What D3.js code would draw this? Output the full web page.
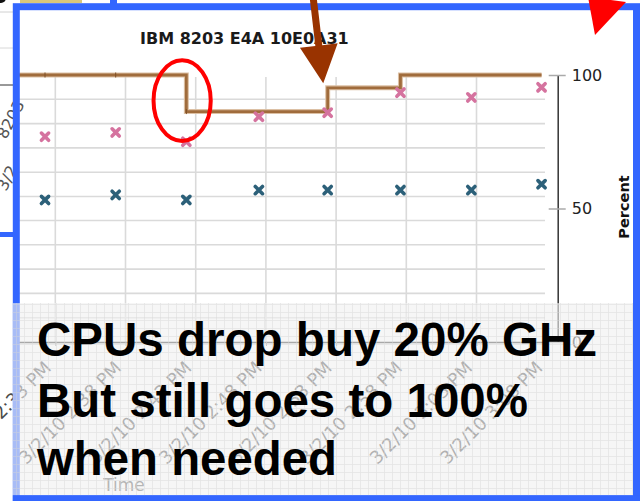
<!DOCTYPE html>
<html>
<head>
<meta charset="utf-8">
<script src="https://cdn.jsdelivr.net/npm/d3@7"></script>
<style>
  html, body { margin: 0; padding: 0; background: #fff; }
  svg { display: block; }
</style>
</head>
<body>
<script>
'use strict';

const W = 642, H = 501;

// samples taken on 3/2/10, roughly every 5 minutes
const sampleTimes = ['14:32:16', '14:37:18', '14:42:20', '14:47:30', '14:52:24', '14:57:35', '15:02:38', '15:07:38'];
const cpuFreq  = [100, 100, 86.3, 86.3, 95.2, 100, 100, 100];      // brown step line
const peakUtil = [76.9, 78.5, 75.0, 84.4, 85.9, 93.4, 91.6, 95.4]; // pink crosses
const avgUtil  = [53.2, 55.1, 53.2, 56.9, 56.9, 56.9, 56.9, 59.1]; // teal crosses

const timeDomain = ['14:30:12', '15:08:00'];
const tickTimes  = ['14:33', '14:38', '14:43', '14:48', '14:53', '14:58', '15:03', '15:08'];
const tickLabels = ['3/2/10 2:33 PM', '3/2/10 2:38 PM', '3/2/10 2:43 PM', '3/2/10 2:48 PM',
                    '3/2/10 2:53 PM', '3/2/10 2:58 PM', '3/2/10 3:03 PM', '3/2/10 3:08 PM'];
const yTicks = [0, 50, 100];
const yGrid  = [9.1, 18.2, 27.3, 36.4, 45.5, 54.5, 63.6, 72.7, 81.8, 90.9];

const title = 'IBM 8203 E4A 10E0A31';
const message = ['CPUs drop buy 20% GHz', 'But still goes to 100%', 'when needed'];

const parseS = d3.timeParse('%H:%M:%S');
const parseM = d3.timeParse('%H:%M');

const svg = d3.select('body').append('svg')
  .attr('width', W)
  .attr('height', H);

const defs = svg.append('defs');
const pat = defs.append('pattern')
  .attr('id', 'paper')
  .attr('width', 8).attr('height', 8)
  .attr('patternUnits', 'userSpaceOnUse');
pat.append('path')
  .attr('d', 'M0,0.5H8M0.5,0V8')
  .attr('stroke', '#d6d6d6')
  .attr('stroke-width', 0.8)
  .attr('fill', 'none');

// bits of the slide behind, left and top of the frame
const bg = svg.append('g');
bg.append('line').attr('x1', 0).attr('x2', 13).attr('y1', 12).attr('y2', 12).attr('stroke', '#d0d0d0');
bg.append('line').attr('x1', 0).attr('x2', 13).attr('y1', 48).attr('y2', 48).attr('stroke', '#d8d8d8');
bg.append('line').attr('x1', 0).attr('x2', 13).attr('y1', 85).attr('y2', 85).attr('stroke', '#333');
bg.append('rect').attr('x', 0).attr('y', 232).attr('width', 14).attr('height', 5).attr('fill', '#3366ff');
bg.append('rect').attr('x', 110).attr('y', 0).attr('width', 7).attr('height', 5).attr('fill', '#3366ff');
bg.append('rect').attr('x', 20).attr('y', 0).attr('width', 62).attr('height', 3).attr('fill', '#d8c77a');
bg.append('circle').attr('cx', 1).attr('cy', -2).attr('r', 5).attr('fill', '#111');
bg.append('text').attr('transform', 'translate(6,140) rotate(-62)')
  .attr('font-family', 'DejaVu Sans').attr('font-size', 16).attr('fill', '#555').text('8203');
bg.append('text').attr('transform', 'translate(6,192) rotate(-62)')
  .attr('font-family', 'DejaVu Sans').attr('font-size', 16).attr('fill', '#555').text('3/2');

// scales
const x = d3.scaleTime()
  .domain(timeDomain.map(parseS))
  .range([16, 546.7]);
const y = d3.scaleLinear()
  .domain([0, 100])
  .range([342, 75]);

const chart = svg.append('g');

// grid
chart.append('g').selectAll('line')
  .data(yGrid)
  .join('line')
  .attr('x1', 16).attr('x2', 545)
  .attr('y1', d => y(d)).attr('y2', d => y(d))
  .attr('stroke', '#dadada').attr('stroke-width', 1.6);

chart.append('g').selectAll('line')
  .data(tickTimes.map(parseM).filter(t => x(t) < 540))
  .join('line')
  .attr('x1', d => x(d)).attr('x2', d => x(d))
  .attr('y1', y(100) + 2).attr('y2', y(0))
  .attr('stroke', '#dadada').attr('stroke-width', 1.6);

// x axis
const xAxis = chart.append('g')
  .attr('transform', `translate(0,${y(0)})`)
  .call(d3.axisBottom(x)
    .tickValues(tickTimes.map(parseM))
    .tickFormat((d, i) => tickLabels[i])
    .tickSize(4)
    .tickSizeOuter(0));
xAxis.select('.domain').attr('stroke', '#333').attr('stroke-width', 1.5);
xAxis.selectAll('.tick line').attr('stroke', '#888');
xAxis.selectAll('.tick text')
  .attr('font-family', 'DejaVu Sans')
  .attr('font-size', 18)
  .attr('fill', '#4a4a4a')
  .attr('text-anchor', 'end')
  .attr('x', 0).attr('y', 0).attr('dy', 0)
  .attr('transform', 'translate(-3.5,27) rotate(-45)');

chart.append('text')
  .attr('x', 124).attr('y', 491)
  .attr('text-anchor', 'middle')
  .attr('font-family', 'DejaVu Sans')
  .attr('font-size', 17)
  .attr('fill', '#555')
  .text('Time');

// y axis on the right
const yAxis = chart.append('g')
  .attr('transform', 'translate(557.7,0)')
  .call(d3.axisRight(y)
    .tickValues(yTicks)
    .tickSize(8)
    .tickSizeOuter(0)
    .tickPadding(6));
yAxis.select('.domain').attr('stroke', '#333').attr('stroke-width', 1.5);
yAxis.selectAll('.tick line').attr('x1', -9).attr('stroke', '#aaa').attr('stroke-width', 1.5);
yAxis.selectAll('.tick text')
  .attr('font-family', 'DejaVu Sans')
  .attr('font-size', 16)
  .attr('fill', '#222');

chart.append('text')
  .attr('transform', 'translate(629,207) rotate(-90)')
  .attr('text-anchor', 'middle')
  .attr('font-family', 'DejaVu Sans')
  .attr('font-weight', 'bold')
  .attr('font-size', 14.5)
  .attr('fill', '#111')
  .text('Percent');

chart.append('text')
  .attr('x', 140).attr('y', 44)
  .attr('font-family', 'DejaVu Sans')
  .attr('font-weight', 'bold')
  .attr('font-size', 16)
  .attr('fill', '#1a1a1a')
  .text(title);

// step line (GHz as percent of nominal)
const samples = sampleTimes.map(parseS);
const stepData = [{t: x.domain()[0], v: cpuFreq[0]}]
  .concat(samples.map((t, i) => ({t: t, v: cpuFreq[i]})));
const step = d3.line()
  .x(d => x(d.t))
  .y(d => y(d.v))
  .curve(d3.curveStepAfter);

chart.append('path')
  .attr('d', step(stepData))
  .attr('fill', 'none')
  .attr('stroke', '#dcc0a4')
  .attr('stroke-width', 5);
chart.append('path')
  .attr('d', step(stepData))
  .attr('fill', 'none')
  .attr('stroke', '#a06c3c')
  .attr('stroke-width', 2.8);
chart.append('g').selectAll('line')
  .data(samples.slice(0, 3))
  .join('line')
  .attr('x1', d => x(d)).attr('x2', d => x(d))
  .attr('y1', (d, i) => y(cpuFreq[i]) - 2.5)
  .attr('y2', (d, i) => y(cpuFreq[i]) + 2.5)
  .attr('stroke', '#7d4f26').attr('stroke-width', 1);

// crosses
const cross = 'M-3.6,-3.6L3.6,3.6M-3.6,3.6L3.6,-3.6';
function drawCrosses(values, color) {
  chart.append('g').selectAll('path')
    .data(values)
    .join('path')
    .attr('transform', (d, i) => `translate(${x(samples[i])},${y(d)})`)
    .attr('d', cross)
    .attr('stroke', color)
    .attr('stroke-width', 3.6)
    .attr('stroke-linecap', 'round')
    .attr('fill', 'none');
}
drawCrosses(peakUtil, '#d5739f');
drawCrosses(avgUtil, '#2c6079');

// blue frame
svg.append('rect')
  .attr('x', 16.3).attr('y', 6.7)
  .attr('width', 620.2).attr('height', 492)
  .attr('fill', 'none')
  .attr('stroke', '#3366ff')
  .attr('stroke-width', 7);

// annotations
svg.append('ellipse')
  .attr('cx', x(parseS('14:42:02'))).attr('cy', y(90.4))
  .attr('rx', 28.6).attr('ry', 40.3)
  .attr('fill', 'none')
  .attr('stroke', '#ff0000')
  .attr('stroke-width', 4);

const arrowPts = [[-3.5, -95], [3.5, -95], [3.5, -38], [19, -38], [0, 0], [-19, -38], [-3.5, -38]];
svg.append('polygon')
  .attr('transform', `translate(${x(parseS('14:52:05'))},${y(96.9)}) rotate(-6.7)`)
  .attr('points', arrowPts.map(p => p.join(',')).join(' '))
  .attr('fill', '#993300');

// translucent note panel
const panel = svg.append('g');
panel.append('rect')
  .attr('x', 12.7).attr('y', 303)
  .attr('width', 621.3).attr('height', 192.5)
  .attr('fill', '#f0f0f0')
  .attr('opacity', 0.62);
panel.append('rect')
  .attr('x', 12.7).attr('y', 303)
  .attr('width', 621.3).attr('height', 192.5)
  .attr('fill', 'url(#paper)')
  .attr('opacity', 0.55);

const msgY = [356, 417, 475];
const msgLen = [560, 491, 300];
panel.selectAll('text.msg')
  .data(message)
  .join('text')
  .attr('class', 'msg')
  .attr('x', 37)
  .attr('y', (d, i) => msgY[i])
  .attr('textLength', (d, i) => msgLen[i])
  .attr('lengthAdjust', 'spacingAndGlyphs')
  .attr('font-family', 'Liberation Sans, Arial, Helvetica, sans-serif')
  .attr('font-weight', 'bold')
  .attr('font-size', 48)
  .attr('fill', '#000')
  .text(d => d);

// right and bottom of the frame sit above the panel
svg.append('line').attr('x1', 636.5).attr('x2', 636.5).attr('y1', 300).attr('y2', H)
  .attr('stroke', '#3366ff').attr('stroke-width', 7);
svg.append('line').attr('x1', 12.8).attr('x2', 640).attr('y1', 498.7).attr('y2', 498.7)
  .attr('stroke', '#3366ff').attr('stroke-width', 7);

// red pointer in the corner
svg.append('polygon')
  .attr('points', '588,-3 626,2 595,35')
  .attr('fill', '#ff0000');
</script>
</body>
</html>
